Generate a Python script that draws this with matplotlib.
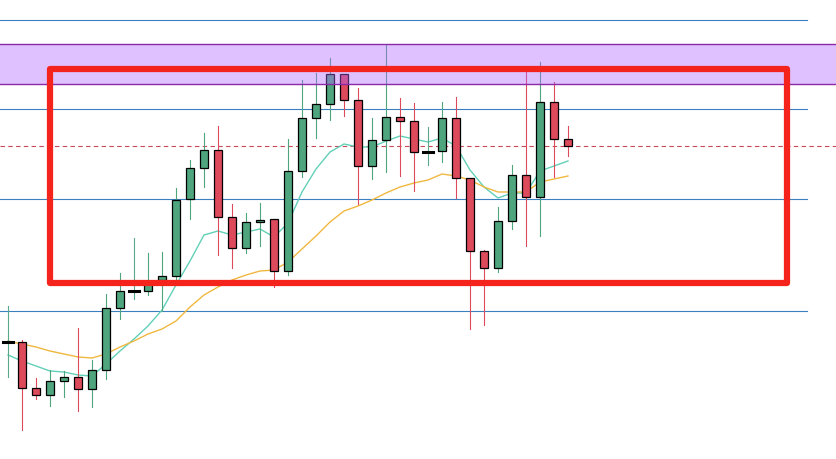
import matplotlib
matplotlib.use('Agg')
import matplotlib.pyplot as plt
from matplotlib.patches import Rectangle
import numpy as np

# candle data, price units
opens = [117, 117, 71, 64, 78, 82, 70, 89, 151, 168, 168, 179, 183, 260, 291, 309, 242, 211, 237, 240,
         188, 288, 341, 355, 385, 359, 293, 319, 342, 338, 307, 308, 341, 281, 208, 191, 238, 284, 262, 357, 320]
closes = [117, 71, 64, 78, 82, 70, 89, 151, 168, 168, 178, 183, 259, 291, 309, 242, 211, 237, 239, 188,
          288, 341, 355, 385, 359, 293, 319, 342, 338, 307, 307, 341, 281, 208, 191, 238, 284, 262, 357, 320, 313]
highs = [153, 119, 81, 89, 88, 131, 99, 165, 186, 221, 206, 207, 271, 299, 326, 333, 255, 246, 256, 240,
         320, 379, 386, 401, 385, 371, 341, 415, 361, 356, 332, 357, 362, 281, 209, 252, 294, 388, 397, 377, 333]
lows = [82, 29, 60, 53, 62, 48, 52, 80, 140, 160, 164, 148, 175, 240, 272, 204, 191, 206, 213, 172,
        184, 282, 321, 339, 343, 255, 280, 287, 283, 268, 294, 297, 261, 130, 134, 187, 230, 213, 223, 282, 303]

# moving averages as drawn
ma_fast = [104, 98, 93, 88, 87, 84, 83, 95, 108, 120, 133, 149, 174, 198, 224, 228, 224, 227, 230, 222,
           236, 267, 290, 307, 315, 312, 312, 318, 323, 320, 317, 321, 313, 289, 272, 261, 266, 266, 288, 293, 298]
ma_slow = [118, 115, 112, 108, 105, 102, 101, 105, 112, 118, 125, 130, 138, 152, 164, 172, 179, 184, 188, 189,
           197, 210, 223, 237, 248, 253, 259, 266, 272, 276, 279, 285, 283, 279, 272, 267, 267, 267, 277, 280, 283]

# drawn levels
blue_levels = [439.5, 350, 260, 148]
zone_low, zone_high = 375, 415
dashed_level = 313
box_x0, box_x1 = 3.0, 55.64
box_low, box_high = 176, 390

green = '#4fa67e'
red = '#dc4a5c'

fig = plt.figure(figsize=(8.37, 4.6), dpi=100)
ax = fig.add_axes([0, 0, 1, 1])
ax.set_xlim(-8 / 14, 829 / 14)
ax.set_ylim(0, 460)
ax.axis('off')

for lv in blue_levels:
    ax.plot([-1, 57.07], [lv, lv], color='#3a80c0', lw=0.8, zorder=1)
ax.axhline(dashed_level, color='#c84a5a', lw=0.8, ls=(0, (4, 3)), zorder=1)

ax.plot(range(len(ma_fast)), ma_fast, color='#62d0b8', lw=1.0, zorder=2)
ax.plot(range(len(ma_slow)), ma_slow, color='#f0b840', lw=1.0, zorder=2)

w = 8 / 14
for i, (o, c, h, l) in enumerate(zip(opens, closes, highs, lows)):
    if o == c:
        ax.plot([i, i], [l, h], color='#5aa88a', lw=0.8, zorder=3)
        ax.plot([i - 0.33, i + 0.33], [o, o], color='black', lw=2.2, zorder=4)
        continue
    col = green if c > o else red
    ax.plot([i, i], [l, h], color=col, lw=0.8, zorder=3)
    ax.add_patch(Rectangle((i - w / 2, min(o, c)), w, abs(c - o), facecolor=col,
                           edgecolor='black', lw=0.9, zorder=4))

# purple zone over the candles
ax.axhspan(zone_low, zone_high, facecolor='#b266ff', alpha=0.4, lw=0, zorder=5)
for lv in (zone_low, zone_high):
    ax.axhline(lv, color='#8a2aa8', lw=1.0, zorder=5)

ax.add_patch(Rectangle((box_x0, box_low), box_x1 - box_x0, box_high - box_low, fill=False,
                       edgecolor='#f4241c', lw=4.5, joinstyle='round', zorder=6))

fig.savefig('out.png', dpi=100, facecolor='white')
